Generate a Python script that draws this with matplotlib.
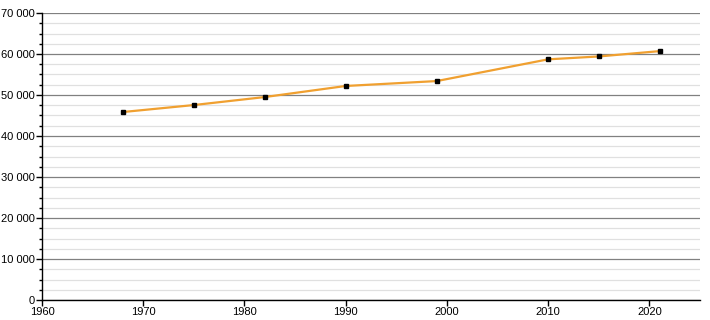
import matplotlib
matplotlib.use("Agg")
import matplotlib.pyplot as plt
from matplotlib.ticker import MultipleLocator, FuncFormatter

# --- data ---
years = [1968, 1975, 1982, 1990, 1999, 2010, 2015, 2021]
population = [45850, 47550, 49500, 52200, 53400, 58700, 59400, 60700]

plt.rcParams['font.family'] = ['Liberation Sans', 'DejaVu Sans']

fig = plt.figure(figsize=(7.1, 3.2), dpi=100)
ax = fig.add_axes([42 / 710, 20 / 320, 658 / 710, 287 / 320])

ax.plot(years, population, color='#f0a030', linewidth=1.6, zorder=3)
ax.plot(years, population, linestyle='none', marker='s', markersize=3.2,
        color='black', zorder=4)

ax.set_xlim(1960, 2025)
ax.set_ylim(0, 70000)

ax.xaxis.set_major_locator(MultipleLocator(10))
ax.yaxis.set_major_locator(MultipleLocator(10000))
ax.yaxis.set_minor_locator(MultipleLocator(2500))
ax.yaxis.set_major_formatter(FuncFormatter(lambda v, p: f"{int(v):,}".replace(",", " ")))

ax.grid(axis='y', which='major', color='#808080', linewidth=0.9, zorder=1)
ax.grid(axis='y', which='minor', color='#e0e0e0', linewidth=0.9, zorder=1)

for s in ['top', 'right']:
    ax.spines[s].set_visible(False)
for s in ['left', 'bottom']:
    ax.spines[s].set_linewidth(1.0)

ax.tick_params(axis='both', which='major', labelsize=8, length=4, width=1, pad=1)
ax.tick_params(axis='y', which='minor', length=2, width=1)

fig.savefig("out.png", dpi=100)
